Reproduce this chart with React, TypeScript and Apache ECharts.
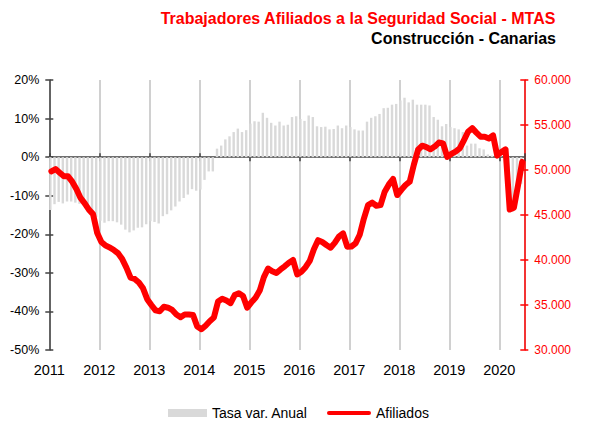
import React, { useEffect, useRef } from "react";
import * as echarts from "echarts";

const FONT = "'Liberation Sans', Arial, Helvetica, sans-serif";

const TITLE = "Trabajadores Afiliados a la Seguridad Social - MTAS";
const SUBTITLE = "Construcción - Canarias";

const yearLabels = ["2011", "2012", "2013", "2014", "2015", "2016", "2017", "2018", "2019", "2020"];

// Tasa de variación anual (%), mensual, ene-2011 .. jun-2020
const tasa2011 = [-13.7, -12.2, -11.6, -12.0, -11.5, -11.5, -11.8, -12.1, -12.5, -13.3, -14.6, -15.5];
const tasa2012 = [-16.5, -17.0, -16.6, -16.6, -16.9, -17.5, -18.8, -19.5, -19.0, -18.3, -18.2, -17.4];
const tasa2013 = [-16.6, -16.8, -17.2, -15.3, -14.8, -13.8, -12.8, -11.5, -10.6, -9.7, -8.3, -8.7];
const tasa2014 = [-8.4, -5.9, -3.7, -3.7, 2.2, 3.0, 4.6, 5.4, 6.5, 7.4, 6.5, 7.0];
const tasa2015 = [8.7, 9.3, 9.2, 11.5, 10.2, 8.9, 8.2, 9.2, 8.2, 8.4, 10.4, 10.6];
const tasa2016 = [9.9, 9.4, 10.8, 10.4, 8.0, 7.8, 7.9, 7.2, 7.3, 8.2, 7.5, 8.2];
const tasa2017 = [7.8, 7.2, 6.9, 6.9, 9.2, 10.2, 10.6, 11.2, 12.7, 12.8, 13.6, 13.8];
const tasa2018 = [14.7, 15.4, 14.2, 14.9, 13.6, 13.6, 13.6, 13.4, 10.4, 9.7, 8.0, 8.6];
const tasa2019 = [7.8, 7.5, 7.2, 6.5, 3.0, 3.5, 3.5, 2.3, 2.0, 0.7, 0.4, 0.2];
const tasa2020 = [0.4, 0.5, -12.8, -14.1, -11.0, -6.9];

// Afiliados, mensual
const afil2011 = [49850, 50100, 49700, 49300, 49300, 48700, 47900, 46900, 46300, 45600, 45100, 43000];
const afil2012 = [42000, 41600, 41400, 41100, 40750, 40100, 39150, 38050, 37900, 37500, 36850, 35650];
const afil2013 = [35000, 34400, 34300, 34800, 34700, 34450, 33950, 33650, 33950, 33950, 33900, 32600];
const afil2014 = [32300, 32700, 33200, 33600, 35400, 35700, 35500, 35200, 36100, 36300, 36000, 34700];
const afil2015 = [35300, 35800, 36600, 38100, 39050, 38750, 38550, 38950, 39300, 39700, 40000, 38400];
const afil2016 = [38700, 39200, 39900, 41200, 42200, 42000, 41670, 41370, 41900, 42600, 42960, 41480];
const afil2017 = [41500, 41850, 42800, 44600, 46100, 46370, 46030, 46100, 47590, 48400, 49000, 47220];
const afil2018 = [47800, 48330, 48700, 50600, 52250, 52700, 52550, 52300, 52600, 53050, 52950, 51450];
const afil2019 = [51800, 52050, 52400, 53300, 54250, 54650, 54150, 53700, 53700, 53500, 53850, 51600];
const afil2020 = [52000, 52300, 45600, 45800, 48300, 50900];

const tasaVar = [
  ...tasa2011, ...tasa2012, ...tasa2013, ...tasa2014, ...tasa2015,
  ...tasa2016, ...tasa2017, ...tasa2018, ...tasa2019, ...tasa2020,
];
const afiliados = [
  ...afil2011, ...afil2012, ...afil2013, ...afil2014, ...afil2015,
  ...afil2016, ...afil2017, ...afil2018, ...afil2019, ...afil2020,
];

const MONTHS_SPAN = 114;

const fmtThousands = (v: number) => (v / 1000).toFixed(3);

export default function App() {
  const ref = useRef<HTMLDivElement>(null);

  useEffect(() => {
    if (!ref.current) return;
    const chart = echarts.init(ref.current, undefined, { renderer: "svg" });

    const dark = "#404040";
    const red = "#ff0000";

    const leftBase = {
      type: "value",
      position: "left",
      min: -50,
      max: 20,
      interval: 10,
      splitLine: { show: false },
    };
    const rightBase = {
      type: "value",
      position: "right",
      min: 30000,
      max: 60000,
      interval: 5000,
      splitLine: { show: false },
    };
    const xBase = {
      type: "value",
      min: 0,
      max: MONTHS_SPAN,
      interval: 12,
      position: "bottom",
    };

    const option: any = {
      animation: false,
      backgroundColor: "#ffffff",
      title: [
        {
          text: TITLE,
          right: 39,
          top: 10,
          padding: 0,
          textStyle: { color: red, fontSize: 16, fontWeight: "bold", fontFamily: FONT },
        },
        {
          text: SUBTITLE,
          right: 39,
          top: 30,
          padding: 0,
          textStyle: { color: "#000000", fontSize: 16, fontWeight: "bold", fontFamily: FONT },
        },
      ],
      grid: { left: 49.3, right: 70.7, top: 80, bottom: 75, containLabel: false },
      legend: [
        {
          data: ["Tasa var. Anual"],
          left: 168,
          top: 406,
          padding: 0,
          itemWidth: 39,
          itemHeight: 8,
          icon: "rect",
          itemStyle: { borderWidth: 0 },
          textStyle: { fontSize: 14, color: "#000000", fontFamily: FONT },
        },
        {
          data: ["Afiliados"],
          left: 327,
          top: 406,
          padding: 0,
          itemWidth: 44,
          itemHeight: 4,
          icon: "path://M2,0 L42,0 A2,2 0 0 1 42,4 L2,4 A2,2 0 0 1 2,0 Z",
          itemStyle: { borderWidth: 0, color: red },
          textStyle: { fontSize: 14, color: "#000000", fontFamily: FONT },
        },
      ],
      xAxis: [
        {
          ...xBase,
          axisLine: { show: true, onZero: true, onZeroAxisIndex: 0, lineStyle: { color: dark, width: 1.5 } },
          axisTick: { show: true, length: 4, lineStyle: { color: dark, width: 1.5 } },
          axisLabel: { show: false },
          splitLine: { show: true, lineStyle: { color: "#c0c0c0", width: 1.5 } },
        },
        {
          ...xBase,
          axisLine: { show: false, onZero: false },
          axisTick: { show: false },
          splitLine: { show: false },
          axisLabel: {
            show: true,
            margin: 12,
            fontSize: 14.5,
            color: "#000000",
            fontFamily: FONT,
            formatter: (v: number) => {
              const k = Math.round(v / 12);
              return Math.abs(v - k * 12) < 1e-6 && k < yearLabels.length ? yearLabels[k] : "";
            },
          },
        },
        {
          ...xBase,
          axisLine: { show: false, onZero: true, onZeroAxisIndex: 0 },
          axisTick: { show: true, inside: true, length: 4, lineStyle: { color: dark, width: 1.5 } },
          axisLabel: { show: false },
          splitLine: { show: false },
        },
      ],
      yAxis: [
        {
          ...leftBase,
          axisLine: { show: true, onZero: false, lineStyle: { color: dark, width: 1.5 } },
          axisTick: { show: true, length: 4, lineStyle: { color: dark, width: 1.5 } },
          axisLabel: { margin: 10, fontSize: 12.5, color: "#000000", fontFamily: FONT, formatter: "{value}%" },
        },
        {
          ...rightBase,
          axisLine: { show: true, onZero: false, lineStyle: { color: red, width: 1.5 } },
          axisTick: { show: true, length: 4, lineStyle: { color: red, width: 1.5 } },
          axisLabel: { margin: 10, fontSize: 12, color: red, fontFamily: FONT, formatter: fmtThousands },
        },
        {
          ...leftBase,
          axisLine: { show: false, onZero: false },
          axisTick: { show: true, inside: true, length: 4, lineStyle: { color: dark, width: 1.5 } },
          axisLabel: { show: false },
        },
        {
          ...rightBase,
          axisLine: { show: false, onZero: false },
          axisTick: { show: true, inside: true, length: 4, lineStyle: { color: red, width: 1.5 } },
          axisLabel: { show: false },
        },
      ],
      series: [
        {
          name: "Tasa var. Anual",
          type: "bar",
          xAxisIndex: 0,
          yAxisIndex: 0,
          barWidth: 2.4,
          itemStyle: { color: "#d9d9d9" },
          data: tasaVar.map((v, i) => [i + 0.25, v]),
          z: 1,
        },
        {
          name: "Afiliados",
          type: "line",
          xAxisIndex: 0,
          yAxisIndex: 1,
          showSymbol: false,
          symbol: "none",
          color: red,
          itemStyle: { color: red },
          lineStyle: { color: red, width: 6, join: "round", cap: "round" },
          data: afiliados.map((v, i) => [i + 0.5, v]),
          z: 3,
        },
      ],
    };

    chart.setOption(option);
    return () => {
      chart.dispose();
    };
  }, []);

  return (
    <div
      ref={ref}
      style={{ position: "fixed", left: 0, top: 0, width: 595, height: 425, background: "#ffffff" }}
    />
  );
}
